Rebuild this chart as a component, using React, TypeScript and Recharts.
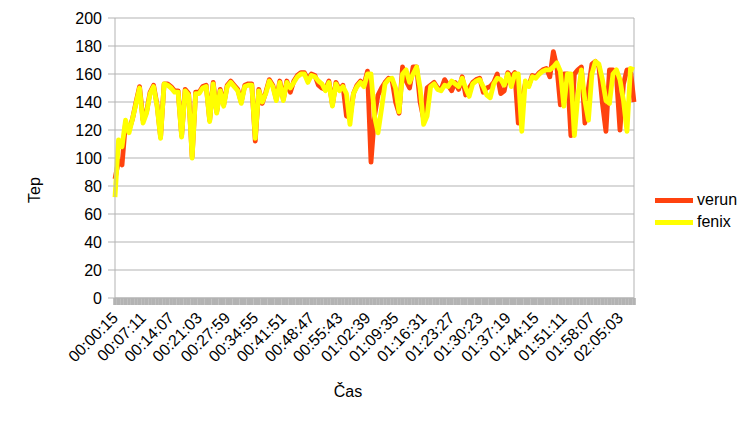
import React from 'react';
import { LineChart, Line, XAxis, YAxis, CartesianGrid, ReferenceLine } from 'recharts';

const START_SECONDS = 15;
const STEP_SECONDS = 52;

const VERUN = [
  85, 98, 95, 125, 120, 128, 140, 151, 127, 133,
  147, 152, 138, 115, 153, 153, 151, 148, 148, 116,
  149, 146, 101, 147, 147, 151, 152, 127, 154, 133,
  149, 138, 152, 155, 152, 149, 140, 152, 153, 153,
  112, 149, 139, 147, 156, 152, 142, 155, 142, 155,
  147, 155, 159, 161, 161, 156, 160, 159, 152, 150,
  149, 155, 138, 154, 149, 152, 130, 129, 146, 152,
  155, 152, 162, 97, 130, 145, 150, 154, 157, 156,
  140, 132, 165, 155, 150, 165, 165, 140, 128, 150,
  152, 154, 150, 149, 156, 152, 148, 154, 149, 158,
  145, 150, 154, 156, 157, 147, 150, 151, 154, 160,
  146, 148, 161, 158, 161, 125, 141, 153, 152, 159,
  158, 161, 163, 164, 158, 176, 165, 138, 160, 160,
  116, 160, 163, 165, 125, 150, 167, 169, 165, 139,
  119, 163, 163, 158, 120, 153, 163, 163, 140,
];

const FENIX = [
  72, 113, 108, 127, 118, 128, 139, 150, 125, 132,
  146, 151, 137, 114, 153, 152, 150, 147, 147, 115,
  148, 145, 100, 146, 146, 150, 151, 126, 153, 132,
  148, 137, 151, 154, 151, 148, 139, 151, 152, 152,
  114, 148, 140, 146, 155, 151, 141, 154, 141, 154,
  150, 154, 158, 160, 160, 154, 159, 158, 155, 153,
  148, 154, 137, 153, 148, 151, 146, 124, 146, 151,
  154, 151, 160, 160, 130, 118, 135, 153, 156, 157,
  150, 133, 160, 163, 154, 160, 165, 150, 124, 130,
  151, 153, 149, 148, 152, 151, 155, 153, 151, 157,
  150, 144, 153, 155, 156, 151, 145, 143, 153, 157,
  156, 152, 160, 151, 160, 160, 119, 155, 151, 158,
  157, 160, 162, 163, 163, 165, 168, 162, 137, 160,
  160, 116, 145, 163, 141, 127, 160, 169, 167, 156,
  141, 139, 160, 163, 156, 141, 119, 164, 163,
];

const TICK_LABELS = [
  '00:00:15', '00:07:11', '00:14:07', '00:21:03', '00:27:59', '00:34:55',
  '00:41:51', '00:48:47', '00:55:43', '01:02:39', '01:09:35', '01:16:31',
  '01:23:27', '01:30:23', '01:37:19', '01:44:15', '01:51:11', '01:58:07',
  '02:05:03',
];
const LABEL_EVERY = 8;
const Y_TICKS = [0, 20, 40, 60, 80, 100, 120, 140, 160, 180, 200];
const SERIES = [
  { key: 'verun', name: 'verun', color: '#ff420e' },
  { key: 'fenix', name: 'fenix', color: '#ffff00' },
];

const pad = (n: number) => String(n).padStart(2, '0');
const fmt = (s: number) => `${pad(Math.floor(s / 3600))}:${pad(Math.floor((s % 3600) / 60))}:${pad(s % 60)}`;

const data = VERUN.map((v, i) => ({
  t: fmt(START_SECONDS + STEP_SECONDS * i),
  verun: v,
  fenix: FENIX[i],
}));

const FONT = '"Liberation Sans", Arial, sans-serif';
const GRAY = '#b3b3b3';

const XTick = (props: any) => {
  const { x, y, index } = props;
  const showLabel = index % LABEL_EVERY === 0;
  const label = TICK_LABELS[index / LABEL_EVERY];
  const ax = x + 4;
  const ay = y + 21;
  return (
    <g>
      <line x1={x} y1={y} x2={x} y2={y + 7} stroke={GRAY} strokeWidth={3.6} />
      {showLabel && label ? (
        <text
          x={ax}
          y={ay}
          transform={`rotate(-45, ${ax}, ${ay})`}
          textAnchor="end"
          fontSize={16}
          fontFamily={FONT}
          fill="#000"
        >
          {label}
        </text>
      ) : null}
    </g>
  );
};

export default function App() {
  return (
    <div style={{ position: 'absolute', left: 0, top: 0, width: 756, height: 425, background: '#fff' }}>
      <LineChart
        width={756}
        height={425}
        data={data}
        margin={{ top: 18, right: 122, bottom: 0, left: 0 }}
        style={{ fontFamily: FONT }}
      >
        <CartesianGrid horizontal vertical={false} stroke={GRAY} strokeWidth={1} />
        <XAxis
          dataKey="t"
          interval={0}
          height={127}
          tickLine={false}
          tickSize={0}
          tickMargin={0}
          axisLine={{ stroke: GRAY }}
          tick={<XTick />}
          label={{
            content: () => (
              <text x={348} y={397} textAnchor="middle" fontSize={16} fontFamily={FONT} fill="#000">
                Čas
              </text>
            ),
          }}
        />
        <YAxis
          width={115}
          domain={[0, 200]}
          ticks={Y_TICKS}
          interval={0}
          tickSize={7}
          tickMargin={6}
          tickLine={{ stroke: GRAY }}
          axisLine={{ stroke: GRAY }}
          tick={{ fill: '#000', fontSize: 16, fontFamily: FONT }}
          label={{
            content: () => (
              <text
                x={40}
                y={190}
                transform="rotate(-90, 40, 190)"
                textAnchor="middle"
                fontSize={16}
                fontFamily={FONT}
                fill="#000"
              >
                Tep
              </text>
            ),
          }}
        />
        <ReferenceLine x={data[data.length - 1].t} stroke={GRAY} />
        {SERIES.map((s) => (
          <Line
            key={s.key}
            type="linear"
            dataKey={s.key}
            name={s.name}
            stroke={s.color}
            strokeWidth={4.8}
            strokeLinejoin="round"
            dot={false}
            isAnimationActive={false}
          />
        ))}
      </LineChart>
      <div
        style={{
          position: 'absolute',
          left: 655,
          top: 189,
          fontFamily: FONT,
          fontSize: 16,
          color: '#000',
        }}
      >
        {SERIES.map((s) => (
          <div key={s.key} style={{ display: 'flex', alignItems: 'center', height: 22 }}>
            <div style={{ width: 38, height: 5, background: s.color, marginRight: 4 }} />
            <span>{s.name}</span>
          </div>
        ))}
      </div>
    </div>
  );
}
